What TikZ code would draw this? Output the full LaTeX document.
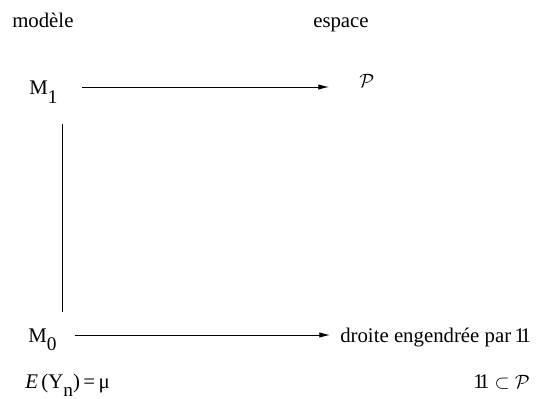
\documentclass[tikz,border=0pt]{standalone}
\usepackage{fontspec}
\setmainfont{Liberation Serif}
\usetikzlibrary{arrows.meta}
\newcommand\lowsub[1]{\raisebox{-.4em}{\fontsize{14.5}{14}\selectfont #1}}
\newcommand\onevec{1\kern-.22em1}
\begin{document}
\begin{tikzpicture}[x=0.75pt, y=-0.75pt, >={Latex[length=8pt,width=4pt]},
    lbl/.style={anchor=base west, inner sep=0pt, font=\fontsize{15.6}{18}\selectfont},
    arr/.style={->, line width=0.6pt},
    link/.style={line width=0.6pt}]
    \useasboundingbox (0,0) rectangle (538,399);

    \node[lbl] (modele) at (12,28) {modèle};
    \node[lbl] (espace) at (313,28) {espace};

    \node[lbl] (m1) at (29,95) {M\lowsub{1}};
    \node[lbl] (pp) at (359,88) {\Large$\mathcal{P}$};
    \node[lbl] (m0) at (28,342) {M\lowsub{0}};
    \node[lbl] (droite) at (340,342) {droite engendrée par\,\onevec};
    \node[lbl] (esp) at (25,388) {\textit{E}\,(Y\lowsub{n})\,=\,μ};
    \node[lbl] (incl) at (473,388) {\onevec\ $\subset$ \Large$\mathcal{P}$};

    \draw[arr] ([shift={(24,-8)}]m1.base east) -- ([shift={(-30,-1)}]pp.base west);
    \draw[link] ([shift={(33,29)}]m1.base west) -- ([shift={(34,-30)}]m0.base west);
    \draw[arr] ([shift={(18,-7)}]m0.base east) -- ([shift={(-10,-7)}]droite.base west);
\end{tikzpicture}
\end{document}
